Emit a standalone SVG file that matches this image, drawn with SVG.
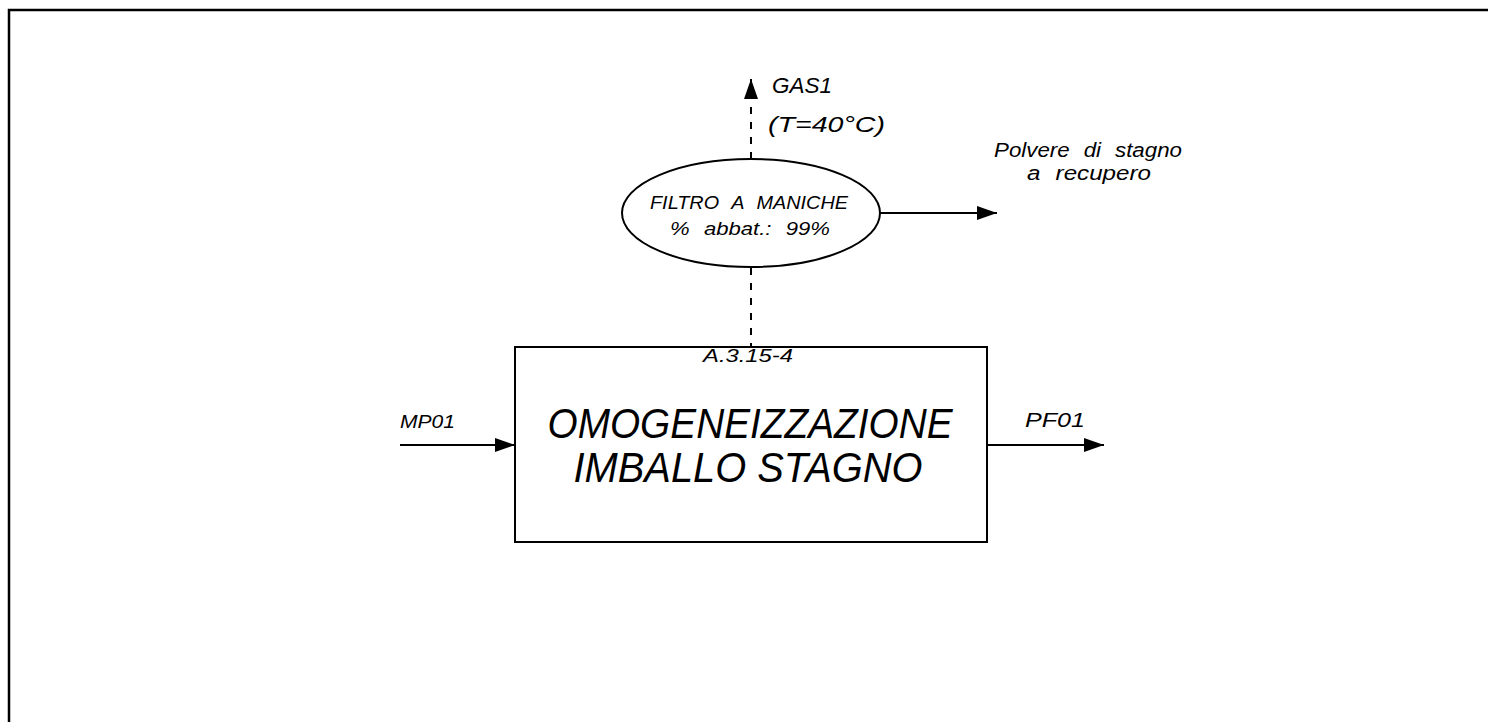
<svg xmlns="http://www.w3.org/2000/svg" width="1488" height="722" viewBox="0 0 1488 722">
<style>
.t{font-family:"Liberation Sans",Arial,sans-serif;font-style:italic;fill:#000}
.w{word-spacing:7px}
.ln{stroke:#000;stroke-width:2;fill:none}
.ds{stroke:#000;stroke-width:2;fill:none;stroke-dasharray:7 8}
</style>
<defs>
<marker id="ah" viewBox="0 0 20 14" refX="20" refY="7" markerWidth="20" markerHeight="14" markerUnits="userSpaceOnUse" orient="auto">
<path d="M0,0 L20,7 L0,14 Z" fill="#000"/>
</marker>
</defs>
<rect x="9" y="10" width="1500" height="730" fill="#fff" stroke="#000" stroke-width="2.5"/>
<g id="connectors">
<line class="ds" x1="751" y1="159" x2="751" y2="79" marker-end="url(#ah)"/>
<line class="ds" x1="751" y1="268" x2="751" y2="346"/>
<line class="ln" x1="880" y1="213" x2="997" y2="213" marker-end="url(#ah)"/>
<line class="ln" x1="400" y1="445" x2="515" y2="445" marker-end="url(#ah)"/>
<line class="ln" x1="987" y1="445" x2="1104" y2="445" marker-end="url(#ah)"/>
</g>
<g id="gas1">
<text class="t" x="772" y="93" font-size="22" textLength="60" lengthAdjust="spacingAndGlyphs">GAS1</text>
<text class="t" x="768" y="132" font-size="22" textLength="117" lengthAdjust="spacingAndGlyphs">(T=40°C)</text>
</g>
<g id="filtro">
<ellipse class="ln" cx="751" cy="213" rx="129" ry="54"/>
<text class="t w" x="749" y="209" font-size="19" text-anchor="middle" textLength="198" lengthAdjust="spacingAndGlyphs">FILTRO A MANICHE</text>
<text class="t w" x="750" y="235" font-size="19" text-anchor="middle" textLength="160" lengthAdjust="spacingAndGlyphs">% abbat.: 99%</text>
</g>
<g id="polvere">
<text class="t w" x="1088" y="157" font-size="20" text-anchor="middle" textLength="188" lengthAdjust="spacingAndGlyphs">Polvere di stagno</text>
<text class="t w" x="1089" y="180" font-size="20" text-anchor="middle" textLength="124" lengthAdjust="spacingAndGlyphs">a recupero</text>
</g>
<g id="processo">
<rect class="ln" x="515" y="347" width="472" height="195"/>
<text class="t" x="748" y="362" font-size="18" text-anchor="middle" textLength="90" lengthAdjust="spacingAndGlyphs">A.3.15-4</text>
<text class="t" x="750" y="438" font-size="42" text-anchor="middle" textLength="405" lengthAdjust="spacingAndGlyphs">OMOGENEIZZAZIONE</text>
<text class="t" x="748" y="482" font-size="42" text-anchor="middle" textLength="349" lengthAdjust="spacingAndGlyphs">IMBALLO STAGNO</text>
</g>
<g id="mp01">
<text class="t" x="400" y="428" font-size="19" textLength="55" lengthAdjust="spacingAndGlyphs">MP01</text>
</g>
<g id="pf01">
<text class="t" x="1025" y="427" font-size="21" textLength="60" lengthAdjust="spacingAndGlyphs">PF01</text>
</g>
</svg>
